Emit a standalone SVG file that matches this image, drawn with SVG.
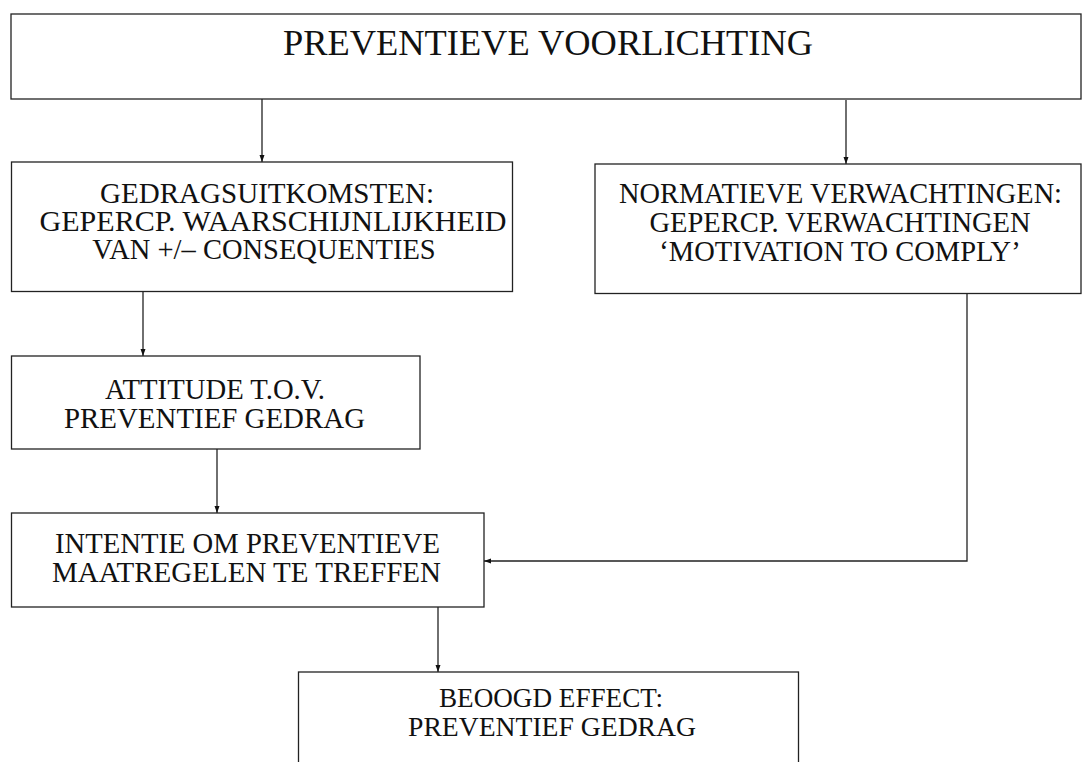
<svg xmlns="http://www.w3.org/2000/svg" width="1083" height="762" viewBox="0 0 1083 762">
  <defs>
    <marker id="arr" markerUnits="userSpaceOnUse" markerWidth="8" markerHeight="6" refX="7" refY="3" orient="auto">
      <path d="M0,0.5 L7,3 L0,5.5 z" fill="#111"/>
    </marker>
    <style>
      .box { fill: #fff; stroke: #222; stroke-width: 1.3; }
      .t { font-family: "Liberation Serif", "Times New Roman", serif; fill: #111; text-anchor: middle; font-size: 28.5px; }
      .title { font-size: 35px; }
      .small { font-size: 27px; }
      .conn { fill: none; stroke: #222; stroke-width: 1.3; marker-end: url(#arr); }
    </style>
  </defs>
  <rect width="1083" height="762" fill="#fff"/>

  <g id="connectors">
    <path class="conn" d="M262,98 L262,162"/>
    <path class="conn" d="M846,100 L846,164"/>
    <path class="conn" d="M143,291 L143,356"/>
    <path class="conn" d="M217,449 L217,513"/>
    <path class="conn" d="M967,293 L967,561 L484,561"/>
    <path class="conn" d="M438,607 L438,672"/>
  </g>

  <g id="node-voorlichting">
    <rect class="box" x="11" y="14" width="1070" height="85"/>
    <text class="t title" x="548" y="55" textLength="530" lengthAdjust="spacingAndGlyphs">PREVENTIEVE VOORLICHTING</text>
  </g>

  <g id="node-gedragsuitkomsten">
    <rect class="box" x="11.5" y="162" width="501" height="129.5"/>
    <text class="t" x="267" y="203" textLength="334" lengthAdjust="spacingAndGlyphs">GEDRAGSUITKOMSTEN:</text>
    <text class="t" x="273" y="231" textLength="467" lengthAdjust="spacingAndGlyphs">GEPERCP. WAARSCHIJNLIJKHEID</text>
    <text class="t" x="264" y="259">VAN +/– CONSEQUENTIES</text>
  </g>

  <g id="node-normatieve">
    <rect class="box" x="595" y="164" width="486" height="129.5"/>
    <text class="t" x="840.5" y="203" textLength="443" lengthAdjust="spacingAndGlyphs">NORMATIEVE VERWACHTINGEN:</text>
    <text class="t" x="840" y="232">GEPERCP. VERWACHTINGEN</text>
    <text class="t" x="840" y="261">‘MOTIVATION TO COMPLY’</text>
  </g>

  <g id="node-attitude">
    <rect class="box" x="11.5" y="356" width="408.5" height="93"/>
    <text class="t" x="215" y="399" textLength="220" lengthAdjust="spacingAndGlyphs">ATTITUDE T.O.V.</text>
    <text class="t" x="214.5" y="428" textLength="301" lengthAdjust="spacingAndGlyphs">PREVENTIEF GEDRAG</text>
  </g>

  <g id="node-intentie">
    <rect class="box" x="11.5" y="513" width="472.5" height="94"/>
    <text class="t" x="247.5" y="553" textLength="385" lengthAdjust="spacingAndGlyphs">INTENTIE OM PREVENTIEVE</text>
    <text class="t" x="246.5" y="582" textLength="389" lengthAdjust="spacingAndGlyphs">MAATREGELEN TE TREFFEN</text>
  </g>

  <g id="node-beoogd">
    <rect class="box" x="298.5" y="672" width="500" height="100"/>
    <text class="t small" x="551" y="707" textLength="224" lengthAdjust="spacingAndGlyphs">BEOOGD EFFECT:</text>
    <text class="t small" x="552" y="736" textLength="288" lengthAdjust="spacingAndGlyphs">PREVENTIEF GEDRAG</text>
  </g>
</svg>
